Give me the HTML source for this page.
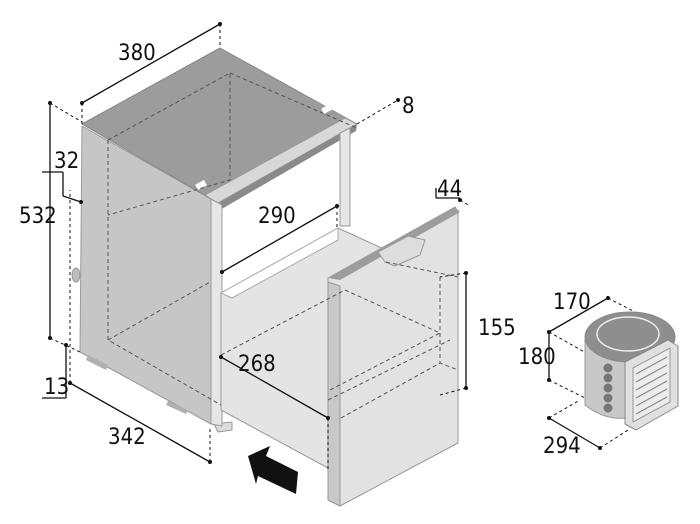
<!DOCTYPE html>
<html><head><meta charset="utf-8"><style>
html,body{margin:0;padding:0;background:#fff;width:700px;height:524px;overflow:hidden}
text{font-family:"DejaVu Sans Condensed","DejaVu Sans","Liberation Sans",sans-serif;font-size:22px;fill:#111}
</style></head><body>
<svg width="700" height="524" viewBox="0 0 700 524" xmlns="http://www.w3.org/2000/svg">
<g stroke-linejoin="round">
<polygon points="82,126 211,199 211,424 80,352" fill="#c6c6c6" stroke="#9a9a9a"/>
<polygon points="88,355 108,365 106,370 86,360" fill="#b0b0b0"/>
<polygon points="168,401 188,410 186,414 166,405" fill="#b0b0b0"/>
<polygon points="214,424 232,422 232,430 218,432" fill="#ddd" stroke="#999"/>
<ellipse cx="76" cy="275" rx="4" ry="7" fill="#bbb" stroke="#999"/>
<polygon points="82,124 220,48 357,124 218,203" fill="#9c9c9c" stroke="#888"/>
<polygon points="205,195 345,118 357,124 218,203" fill="#d8d8d8" stroke="#999"/>
<polygon points="218,203 357,124 356,131 220,210" fill="#8a8a8a"/>
<rect x="196" y="182" width="10" height="6" fill="#fff" transform="rotate(-28 201 185)"/>
<rect x="322" y="106" width="10" height="6" fill="#fff" transform="rotate(-28 327 109)"/>
<polygon points="211,199 222,205 222,426 211,424" fill="#e6e6e6" stroke="#999"/>
<polygon points="340,133 350,128 350,226 340,226" fill="#e6e6e6" stroke="#999"/>
<polygon points="221,293 338,228 386,250 386,262 328,290 328,468 221,410" fill="#e4e4e4" stroke="#999"/>
<polygon points="221,293 338,228 338,240 232,298" fill="#fff" stroke="#aaa"/>
<polygon points="328,278 455,207 458,213 458,443 340,506 328,500" fill="#e2e2e2" stroke="#999"/>
<polygon points="328,282 340,286 340,506 328,500" fill="#c8c8c8" stroke="#999"/>
<polygon points="328,278 455,207 460,212 340,280" fill="#9c9c9c"/>
<polygon points="378,252 408,236 425,240 420,255 395,266 385,262" fill="#ddd" stroke="#999"/>
<g fill="none" stroke="#555" stroke-width="1" stroke-dasharray="4,3">
<polyline points="108,140 108,340 221,405"/>
<polyline points="108,140 230,73 230,180 108,215"/>
<polyline points="230,73 357,128"/>
<polyline points="108,340 210,282"/>
<polyline points="221,355 345,290 440,333 330,390"/>
<polyline points="341,418 440,363 458,370"/>
<polyline points="440,277 440,363"/>
<polyline points="386,262 458,277"/>
<polyline points="328,400 450,340"/>
</g>
<g stroke="#111" stroke-width="1.3" fill="none">
<line x1="82" y1="103" x2="220" y2="24"/>
<line x1="50" y1="103" x2="50" y2="338"/>
<line x1="70" y1="383" x2="210" y2="462"/>
<line x1="222" y1="272" x2="337" y2="206"/>
<line x1="221" y1="357" x2="328" y2="418"/>
<line x1="466" y1="273" x2="466" y2="388"/>
<line x1="549" y1="332" x2="608" y2="298"/>
<line x1="549" y1="332" x2="549" y2="380"/>
<line x1="549" y1="418" x2="600" y2="448"/>
<line x1="42" y1="172" x2="63" y2="172"/><line x1="63" y1="172" x2="63" y2="196"/><line x1="63" y1="196" x2="81" y2="202"/>
<line x1="42" y1="398" x2="66" y2="398"/><line x1="66" y1="398" x2="66" y2="345"/>
<line x1="436" y1="198" x2="460" y2="198"/><line x1="436" y1="198" x2="436" y2="188"/>
</g>
<g stroke="#111" stroke-width="1" fill="none" stroke-dasharray="3,3">
<line x1="82" y1="103" x2="82" y2="124"/><line x1="220" y1="24" x2="220" y2="48"/>
<line x1="50" y1="103" x2="82" y2="122"/><line x1="50" y1="338" x2="80" y2="352"/>
<line x1="70" y1="383" x2="70" y2="190"/><line x1="210" y1="462" x2="210" y2="426"/>
<line x1="337" y1="206" x2="337" y2="228"/><line x1="328" y1="418" x2="328" y2="470"/>
<line x1="466" y1="273" x2="440" y2="277"/><line x1="466" y1="388" x2="440" y2="395"/>
<line x1="357" y1="124" x2="398" y2="100"/><line x1="460" y1="200" x2="470" y2="206"/>
<line x1="608" y1="298" x2="660" y2="325"/><line x1="549" y1="332" x2="620" y2="372"/>
<line x1="549" y1="380" x2="585" y2="398"/><line x1="549" y1="418" x2="580" y2="400"/>
<line x1="600" y1="448" x2="628" y2="430"/>
</g>
<g fill="#111">
<circle cx="82" cy="103" r="2"/><circle cx="220" cy="24" r="2"/><circle cx="50" cy="103" r="2"/><circle cx="50" cy="338" r="2"/>
<circle cx="70" cy="383" r="2"/><circle cx="210" cy="462" r="2"/><circle cx="222" cy="272" r="2"/><circle cx="337" cy="206" r="2"/>
<circle cx="221" cy="357" r="2"/><circle cx="328" cy="418" r="2"/><circle cx="466" cy="273" r="2"/><circle cx="466" cy="388" r="2"/>
<circle cx="549" cy="332" r="2"/><circle cx="608" cy="298" r="2"/><circle cx="549" cy="380" r="2"/><circle cx="549" cy="418" r="2"/><circle cx="600" cy="448" r="2"/>
<circle cx="398" cy="100" r="2"/><circle cx="66" cy="345" r="2"/><circle cx="81" cy="202" r="2"/><circle cx="460" cy="200" r="2"/>
</g>
<polygon points="248,456 270,446 266,456 298,472 296,494 258,476 256,484" fill="#111"/>
<!-- compressor -->
<path d="M585,340 L585,405 Q610,425 640,415 L640,360 Z" fill="#c8c8c8" stroke="#999"/>
<ellipse cx="630" cy="337" rx="45" ry="25" fill="#8e8e8e" stroke="#888"/>
<ellipse cx="628" cy="334" rx="31" ry="17" fill="none" stroke="#eee" stroke-width="1.5"/>
<g fill="#777"><circle cx="608" cy="368" r="4.5"/><circle cx="608" cy="378" r="4.5"/><circle cx="608" cy="388" r="4.5"/><circle cx="608" cy="398" r="4.5"/><circle cx="608" cy="408" r="4.5"/></g>
<polygon points="625,362 668,340 678,346 678,406 636,430 625,424" fill="#e0e0e0" stroke="#888"/>
<polygon points="633,368 670,348 670,402 633,422" fill="#ececec" stroke="#999"/>
<g stroke="#888" stroke-width="1.2">
<line x1="636" y1="374" x2="667" y2="357"/><line x1="636" y1="382" x2="667" y2="365"/><line x1="636" y1="390" x2="667" y2="373"/>
<line x1="636" y1="398" x2="667" y2="381"/><line x1="636" y1="406" x2="667" y2="389"/><line x1="636" y1="414" x2="667" y2="397"/>
</g>
</g>
<text x="118" y="60">380</text>
<text x="19" y="223">532</text>
<text x="54" y="168">32</text>
<text x="44" y="394">13</text>
<text x="108" y="444">342</text>
<text x="258" y="223">290</text>
<text x="238" y="371">268</text>
<text x="478" y="335">155</text>
<text x="437" y="196">44</text>
<text x="402" y="113">8</text>
<text x="553" y="309">170</text>
<text x="518" y="364">180</text>
<text x="543" y="453">294</text>
</svg>
</body></html>
